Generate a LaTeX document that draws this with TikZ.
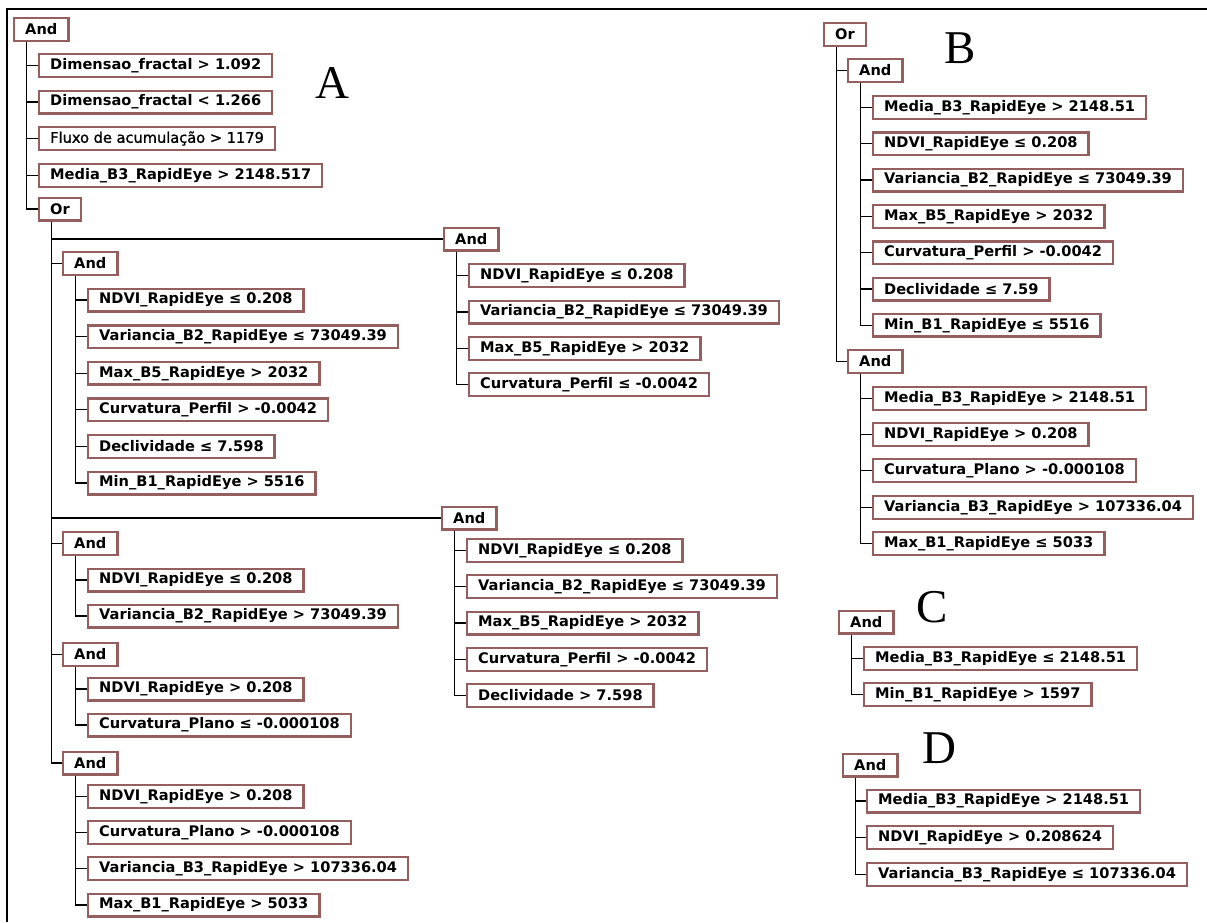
\documentclass[tikz,border=0pt]{standalone}
\usepackage{fontspec}
\newfontfamily\dvs{DejaVu Sans}
\newfontfamily\dvsmed[FakeBold=1.2]{DejaVu Sans}
\newfontfamily\lser{Liberation Serif}
\definecolor{boxc}{RGB}{150,95,95}
\tikzset{
 cond/.style={draw=boxc, line width=2.4pt, fill=white, anchor=west, inner xsep=11pt, inner ysep=0pt, minimum height=22.6pt, font=\dvs\fontsize{14.6}{16}\selectfont\bfseries},
 condn/.style={cond, font=\dvsmed\fontsize{14.6}{16}\selectfont},
 link/.style={line width=1.3pt, black},
 biglabel/.style={font=\lser\fontsize{47}{50}\selectfont, inner sep=0pt},
 frameline/.style={line width=2pt, black},
}
\begin{document}
\begin{tikzpicture}[x=1pt,y=-1pt]
\useasboundingbox (0,0) rectangle (1207,922);
\draw[frameline] (7,922) -- (7,9) -- (1207,9);

% ---------------- Tree A ----------------
\node[cond] (root) at (13,29.5) {And};
\node[cond] (d1) at (38,65.5) {Dimensao\_fractal > 1.092};
\node[cond] (d2) at (38,102) {Dimensao\_fractal < 1.266};
\node[condn] (fl) at (38,138.5) {Fluxo de acumulação > 1179};
\node[cond] (mb) at (38,175.5) {Media\_B3\_RapidEye > 2148.517};
\node[cond] (or) at (38,209) {Or};

\node[cond] (a1) at (62,263.5) {And};
\node[cond] (a1c1) at (87,300) {NDVI\_RapidEye ≤ 0.208};
\node[cond] (a1c2) at (87,336.6) {Variancia\_B2\_RapidEye ≤ 73049.39};
\node[cond] (a1c3) at (87,373.2) {Max\_B5\_RapidEye > 2032};
\node[cond] (a1c4) at (87,409.8) {Curvatura\_Perfil > -0.0042};
\node[cond] (a1c5) at (87,446.4) {Declividade ≤ 7.598};
\node[cond] (a1c6) at (87,483) {Min\_B1\_RapidEye > 5516};

\node[cond] (r1) at (443,239) {And};
\node[cond] (r1c1) at (468,275.5) {NDVI\_RapidEye ≤ 0.208};
\node[cond] (r1c2) at (468,312) {Variancia\_B2\_RapidEye ≤ 73049.39};
\node[cond] (r1c3) at (468,348.5) {Max\_B5\_RapidEye > 2032};
\node[cond] (r1c4) at (468,384.5) {Curvatura\_Perfil ≤ -0.0042};

\node[cond] (r2) at (441,518) {And};
\node[cond] (r2c1) at (466,550.5) {NDVI\_RapidEye ≤ 0.208};
\node[cond] (r2c2) at (466,586.5) {Variancia\_B2\_RapidEye ≤ 73049.39};
\node[cond] (r2c3) at (466,623) {Max\_B5\_RapidEye > 2032};
\node[cond] (r2c4) at (466,659.5) {Curvatura\_Perfil > -0.0042};
\node[cond] (r2c5) at (466,695.5) {Declividade > 7.598};

\node[cond] (a2) at (62,543.5) {And};
\node[cond] (a2c1) at (87,580) {NDVI\_RapidEye ≤ 0.208};
\node[cond] (a2c2) at (87,616) {Variancia\_B2\_RapidEye > 73049.39};

\node[cond] (a3) at (62,654.5) {And};
\node[cond] (a3c1) at (87,689) {NDVI\_RapidEye > 0.208};
\node[cond] (a3c2) at (87,725) {Curvatura\_Plano ≤ -0.000108};

\node[cond] (a4) at (62,763) {And};
\node[cond] (a4c1) at (87,796.5) {NDVI\_RapidEye > 0.208};
\node[cond] (a4c2) at (87,832.5) {Curvatura\_Plano > -0.000108};
\node[cond] (a4c3) at (87,868.5) {Variancia\_B3\_RapidEye > 107336.04};
\node[cond] (a4c4) at (87,905) {Max\_B1\_RapidEye > 5033};

\foreach \c in {d1,d2,fl,mb,or}
  \draw[link] ([xshift=13.5pt]root.south west) |- (\c.west);
\foreach \c in {a1,r1,r2,a2,a3,a4}
  \draw[link] ([xshift=13.5pt]or.south west) |- (\c.west);
\foreach \c in {a1c1,a1c2,a1c3,a1c4,a1c5,a1c6}
  \draw[link] ([xshift=13.5pt]a1.south west) |- (\c.west);
\foreach \c in {r1c1,r1c2,r1c3,r1c4}
  \draw[link] ([xshift=13.5pt]r1.south west) |- (\c.west);
\foreach \c in {r2c1,r2c2,r2c3,r2c4,r2c5}
  \draw[link] ([xshift=13.5pt]r2.south west) |- (\c.west);
\foreach \c in {a2c1,a2c2}
  \draw[link] ([xshift=13.5pt]a2.south west) |- (\c.west);
\foreach \c in {a3c1,a3c2}
  \draw[link] ([xshift=13.5pt]a3.south west) |- (\c.west);
\foreach \c in {a4c1,a4c2,a4c3,a4c4}
  \draw[link] ([xshift=13.5pt]a4.south west) |- (\c.west);

% ---------------- Tree B ----------------
\node[cond] (bor) at (823,34.5) {Or};
\node[cond] (b1) at (847,70.5) {And};
\node[cond] (b1c1) at (872,107.5) {Media\_B3\_RapidEye > 2148.51};
\node[cond] (b1c2) at (872,143.8) {NDVI\_RapidEye ≤ 0.208};
\node[cond] (b1c3) at (872,180.1) {Variancia\_B2\_RapidEye ≤ 73049.39};
\node[cond] (b1c4) at (872,216.4) {Max\_B5\_RapidEye > 2032};
\node[cond] (b1c5) at (872,252.7) {Curvatura\_Perfil > -0.0042};
\node[cond] (b1c6) at (872,289) {Declividade ≤ 7.59};
\node[cond] (b1c7) at (872,325.3) {Min\_B1\_RapidEye ≤ 5516};
\node[cond] (b2) at (847,361.5) {And};
\node[cond] (b2c1) at (872,398.5) {Media\_B3\_RapidEye > 2148.51};
\node[cond] (b2c2) at (872,434.5) {NDVI\_RapidEye > 0.208};
\node[cond] (b2c3) at (872,470.5) {Curvatura\_Plano > -0.000108};
\node[cond] (b2c4) at (872,507.5) {Variancia\_B3\_RapidEye > 107336.04};
\node[cond] (b2c5) at (872,543.5) {Max\_B1\_RapidEye ≤ 5033};

\foreach \c in {b1,b2}
  \draw[link] ([xshift=13.5pt]bor.south west) |- (\c.west);
\foreach \c in {b1c1,b1c2,b1c3,b1c4,b1c5,b1c6,b1c7}
  \draw[link] ([xshift=13.5pt]b1.south west) |- (\c.west);
\foreach \c in {b2c1,b2c2,b2c3,b2c4,b2c5}
  \draw[link] ([xshift=13.5pt]b2.south west) |- (\c.west);

% ---------------- Tree C ----------------
\node[cond] (c0) at (838,622) {And};
\node[cond] (c0c1) at (863,658.5) {Media\_B3\_RapidEye ≤ 2148.51};
\node[cond] (c0c2) at (863,694.5) {Min\_B1\_RapidEye > 1597};
\foreach \c in {c0c1,c0c2}
  \draw[link] ([xshift=13.5pt]c0.south west) |- (\c.west);

% ---------------- Tree D ----------------
\node[cond] (d0) at (842,765) {And};
\node[cond] (d0c1) at (866,801) {Media\_B3\_RapidEye > 2148.51};
\node[cond] (d0c2) at (866,837.5) {NDVI\_RapidEye > 0.208624};
\node[cond] (d0c3) at (866,874.5) {Variancia\_B3\_RapidEye ≤ 107336.04};
\foreach \c in {d0c1,d0c2,d0c3}
  \draw[link] ([xshift=13.5pt]d0.south west) |- (\c.west);

% ---------------- Labels ----------------
\node[biglabel] (labA) at (332.5,82.5) {A};
\node[biglabel] (labB) at (960,48.5) {B};
\node[biglabel] (labC) at (932,607.5) {C};
\node[biglabel] (labD) at (939,748) {D};
\end{tikzpicture}
\end{document}
